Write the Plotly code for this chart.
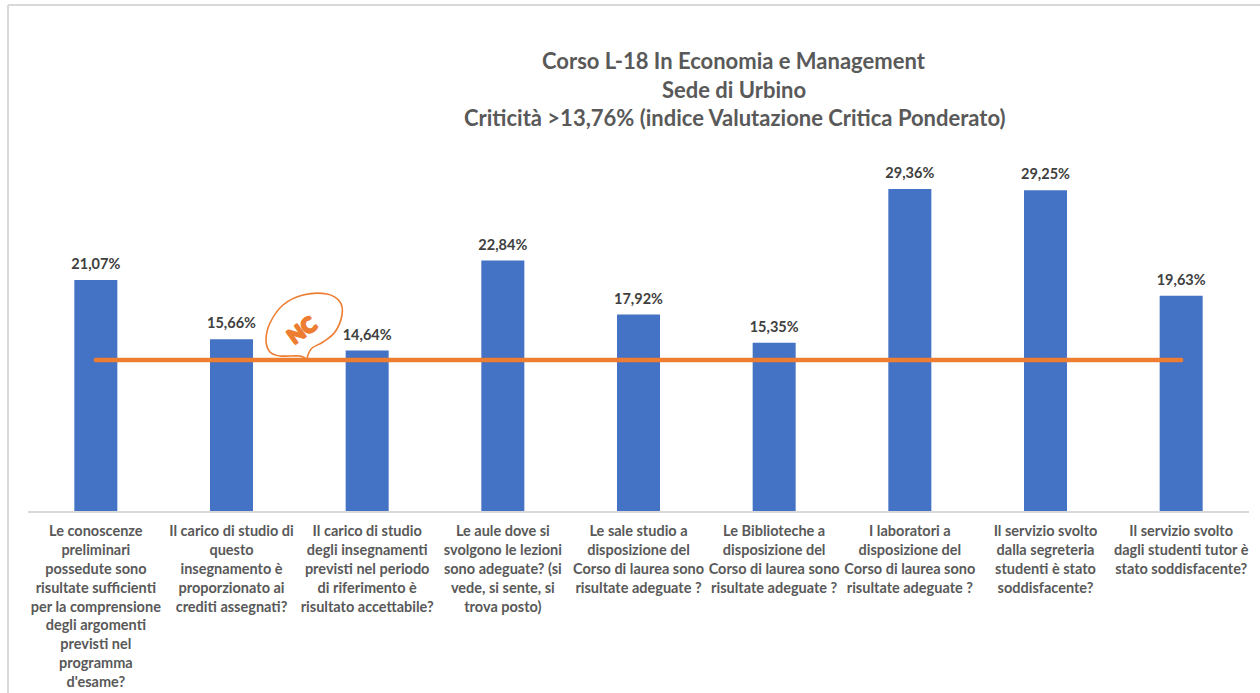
import plotly.graph_objects as go

categories = [
    "Le conoscenze<br>preliminari<br>possedute sono<br>risultate sufficienti<br>per la comprensione<br>degli argomenti<br>previsti nel<br>programma<br>d'esame?",
    "Il carico di studio di<br>questo<br>insegnamento è<br>proporzionato ai<br>crediti assegnati?",
    "Il carico di studio<br>degli insegnamenti<br>previsti nel periodo<br>di riferimento è<br>risultato accettabile?",
    "Le aule dove si<br>svolgono le lezioni<br>sono adeguate? (si<br>vede, si sente, si<br>trova posto)",
    "Le sale studio a<br>disposizione del<br>Corso di laurea sono<br>risultate adeguate ?",
    "Le Biblioteche a<br>disposizione del<br>Corso di laurea sono<br>risultate adeguate ?",
    "I laboratori a<br>disposizione del<br>Corso di laurea sono<br>risultate adeguate ?",
    "Il servizio svolto<br>dalla segreteria<br>studenti è stato<br>soddisfacente?",
    "Il servizio svolto<br>dagli studenti tutor è<br>stato soddisfacente?",
]
values = [21.07, 15.66, 14.64, 22.84, 17.92, 15.35, 29.36, 29.25, 19.63]
threshold = [13.76] * 9
labels = ["21,07%", "15,66%", "14,64%", "22,84%", "17,92%", "15,35%", "29,36%", "29,25%", "19,63%"]
title_lines = [
    "Corso L-18 In Economia e Management",
    "Sede di Urbino",
    "Criticità >13,76% (indice Valutazione Critica Ponderato)",
]

W, H = 1260, 693
L, R, T, B = 28, 1249, 182, 511
FONT = "Lato"


def px(x):
    return (x - L) / (R - L)


def py(y):
    return (B - y) / (B - T)


fig = go.Figure()
fig.add_bar(x=list(range(9)), y=values, width=0.317, marker=dict(color="#4472C4", line=dict(width=0)))
fig.add_scatter(x=list(range(9)), y=threshold, mode="lines+markers", line=dict(color="#ED7D31", width=4.5),
                marker=dict(color="#ED7D31", size=4.5))
fig.add_scatter(x=list(range(9)), y=values, mode="markers+text", text=labels, textposition="top center",
                cliponaxis=False, marker=dict(size=10, opacity=0),
                textfont=dict(family=FONT, size=14.5, color="#404040", weight="bold"))

bubble = [(307, 360), (300, 356), (280, 356), (270, 352), (266, 340), (270, 323), (283, 305),
          (303, 295), (327, 294), (340, 302), (342, 315), (335, 332), (323, 342), (312, 348), (308, 355)]


def smooth(points):
    # Catmull-Rom curve through the outline of the logo, tail tip kept sharp
    out = f"M {px(points[0][0]):.5f} {py(points[0][1]):.5f}"
    n = len(points)
    for i in range(n):
        p0, p1, p2, p3 = points[(i - 1) % n], points[i], points[(i + 1) % n], points[(i + 2) % n]
        c1 = (p1[0] + (p2[0] - p0[0]) / 6, p1[1] + (p2[1] - p0[1]) / 6)
        c2 = (p2[0] - (p3[0] - p1[0]) / 6, p2[1] - (p3[1] - p1[1]) / 6)
        if i == 0:
            c1 = p1
        if i == n - 1:
            c2 = p2
        out += f" C {px(c1[0]):.5f} {py(c1[1]):.5f} {px(c2[0]):.5f} {py(c2[1]):.5f} {px(p2[0]):.5f} {py(p2[1]):.5f}"
    return out + " Z"


shapes = [
    dict(type="line", xref="paper", yref="paper", x0=px(8), x1=px(8), y0=py(693), y1=py(5),
         line=dict(color="#D9D9D9", width=2)),
    dict(type="line", xref="paper", yref="paper", x0=px(8), x1=px(1260), y0=py(5), y1=py(5),
         line=dict(color="#D9D9D9", width=2)),
    dict(type="path", xref="paper", yref="paper", path=smooth(bubble), line=dict(color="#ED7D31", width=1.6),
         fillcolor="rgba(255,255,255,0)", layer="above"),
]

annotations = [
    dict(xref="paper", yref="paper", x=px(734), y=py(y), text=t, showarrow=False, xanchor="center", yanchor="middle",
         font=dict(family=FONT, size=22, color="#595959", weight="bold"))
    for t, y in zip(title_lines, [60, 89, 118])
]
annotations.append(dict(xref="paper", yref="paper", x=px(301), y=py(329), text="NC", showarrow=False, textangle=-36,
                        xanchor="center", yanchor="middle",
                        font=dict(family=FONT, size=21, color="#ED7D31", weight=900,
                                  shadow="0.8px 0.8px 0 #ED7D31, -0.8px -0.8px 0 #ED7D31, 0.8px -0.8px 0 #ED7D31, -0.8px 0.8px 0 #ED7D31")))

fig.update_layout(
    width=W, height=H, autosize=False,
    margin=dict(l=L, r=W - R, t=T, b=H - B),
    paper_bgcolor="white", plot_bgcolor="white",
    showlegend=False, shapes=shapes, annotations=annotations,
    xaxis=dict(tickmode="array", tickvals=list(range(9)), ticktext=categories, range=[-0.5, 8.5],
               showgrid=False, zeroline=False, showline=True, linecolor="#D9D9D9", linewidth=1.5, ticks="",
               tickangle=0, ticklabelstandoff=6,
               tickfont=dict(family=FONT, size=14.5, color="#595959", weight="bold"), automargin=False),
    yaxis=dict(range=[0, 30], visible=False),
)
fig.write_html("out.html", config={"displayModeBar": False},
               post_script="document.body.style.margin='0';document.documentElement.style.overflow='hidden';")
